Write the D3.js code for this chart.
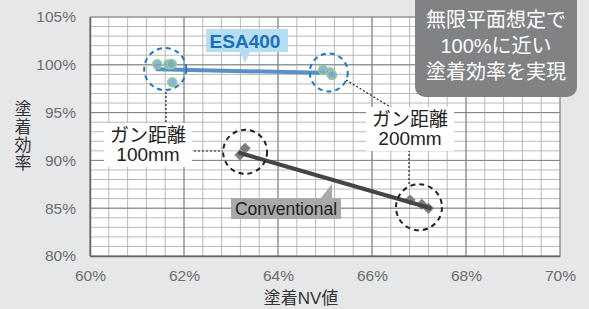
<!DOCTYPE html>
<html>
<head>
<meta charset="utf-8">
<script src="https://cdn.jsdelivr.net/npm/d3@7"></script>
<style>
  html, body { margin: 0; padding: 0; background: #e6e7e8; }
  svg { display: block; font-family: "Liberation Sans", "Noto Sans CJK JP", sans-serif; }
</style>
</head>
<body>
<div id="chart"></div>
<script>
// data
const xTicks = [60, 62, 64, 66, 68, 70];
const yTicks = [80, 85, 90, 95, 100, 105];

const esaX = [61.43, 61.67, 61.74, 61.75, 64.96, 65.11, 65.15];
const esaY = [100.05, 100.05, 100.08, 98.17, 99.46, 99.22, 98.93];
const esaFitX = [61.43, 65.15];
const esaFitY = [99.53, 99.14];

const convX = [63.19, 63.30, 66.81, 67.06, 67.20];
const convY = [90.57, 91.27, 85.86, 85.41, 84.99];
const convFitX = [63.19, 67.23];
const convFitY = [90.77, 85.02];

const width = 589;
const height = 309;
const margin = { top: 17, right: 29, bottom: 53, left: 90 };
const innerWidth = width - margin.left - margin.right;
const innerHeight = height - margin.top - margin.bottom;

const svg = d3.select('#chart')
  .append('svg')
  .attr('width', width)
  .attr('height', height);

svg.append('rect').attr('width', width).attr('height', height).attr('fill', '#e6e7e8');

const g = svg.append('g')
  .attr('transform', `translate(${margin.left}, ${margin.top})`);

const x = d3.scaleLinear().domain([60, 70]).range([0, innerWidth]);
const y = d3.scaleLinear().domain([80, 105]).range([innerHeight, 0]);

// plot background
g.append('rect')
  .attr('width', innerWidth)
  .attr('height', innerHeight)
  .attr('fill', '#fff');

// minor grid
const minorX = d3.range(60, 70.001, 0.4);
const minorY = d3.range(80, 105.001, 1);
g.append('g').selectAll('line')
  .data(minorX)
  .enter().append('line')
  .attr('x1', d => x(d)).attr('x2', d => x(d))
  .attr('y1', 0).attr('y2', innerHeight)
  .attr('stroke', '#b8b8b8').attr('stroke-width', 1);
g.append('g').selectAll('line')
  .data(minorY)
  .enter().append('line')
  .attr('y1', d => y(d)).attr('y2', d => y(d))
  .attr('x1', 0).attr('x2', innerWidth)
  .attr('stroke', '#b8b8b8').attr('stroke-width', 1);

// major grid
g.append('g').selectAll('line')
  .data(xTicks)
  .enter().append('line')
  .attr('x1', d => x(d)).attr('x2', d => x(d))
  .attr('y1', 0).attr('y2', innerHeight)
  .attr('stroke', '#808080').attr('stroke-width', 1);
g.append('g').selectAll('line')
  .data(yTicks)
  .enter().append('line')
  .attr('y1', d => y(d)).attr('y2', d => y(d))
  .attr('x1', 0).attr('x2', innerWidth)
  .attr('stroke', '#808080').attr('stroke-width', 1);

// axes
const xAxis = g.append('g')
  .attr('transform', `translate(0, ${innerHeight})`)
  .call(d3.axisBottom(x).tickValues(xTicks).tickSize(0).tickPadding(14).tickFormat(d => d + '%'));
const yAxis = g.append('g')
  .call(d3.axisLeft(y).tickValues(yTicks).tickSize(0).tickPadding(14).tickFormat(d => d + '%'));
[xAxis, yAxis].forEach(a => {
  a.select('.domain').attr('stroke', '#666').attr('stroke-width', 1.5);
  a.selectAll('text').style('font-size', '15.5px').attr('fill', '#6d6d6d');
});

// axis titles
svg.append('text')
  .attr('x', 301)
  .attr('y', 304)
  .attr('text-anchor', 'middle')
  .style('font-size', '17px')
  .attr('fill', '#333')
  .text('塗着NV値');

const yTitle = svg.append('text')
  .attr('text-anchor', 'middle')
  .style('font-size', '17px')
  .attr('fill', '#333');
'塗着効率'.split('').forEach((c, i) => {
  yTitle.append('tspan').attr('x', 23).attr('y', 115 + i * 18).text(c);
});

// trend lines
const line = d3.line().x(d => x(d[0])).y(d => y(d[1]));
g.append('path')
  .datum(d3.zip(esaFitX, esaFitY))
  .attr('d', line)
  .attr('fill', 'none')
  .attr('stroke', '#5a8fc8')
  .attr('stroke-width', 4)
  .attr('stroke-linecap', 'round');

// ESA400 points
g.selectAll('circle.esa')
  .data(d3.zip(esaX, esaY))
  .enter().append('circle')
  .attr('class', 'esa')
  .attr('cx', d => x(d[0]))
  .attr('cy', d => y(d[1]))
  .attr('r', 4.5)
  .attr('fill', '#7fa6c9')
  .attr('fill-opacity', 0.85)
  .attr('stroke', '#8fd19a')
  .attr('stroke-width', 1.5);

// conventional points
const diamond = d3.symbol().type(d3.symbolDiamond2).size(80);
g.selectAll('path.conv')
  .data(d3.zip(convX, convY))
  .enter().append('path')
  .attr('class', 'conv')
  .attr('d', diamond)
  .attr('transform', d => `translate(${x(d[0])}, ${y(d[1])})`)
  .attr('fill', '#7d7d7d');

g.append('path')
  .datum(d3.zip(convFitX, convFitY))
  .attr('d', line)
  .attr('fill', 'none')
  .attr('stroke', '#454545')
  .attr('stroke-width', 4)
  .attr('stroke-linecap', 'round');

// dashed circles around clusters
const rings = [
  { cx: 61.6, cy: 99.55, r: 21, color: '#1f78c6' },
  { cx: 65.08, cy: 99.2, r: 19, color: '#1f78c6' },
  { cx: 63.3, cy: 90.9, r: 22, color: '#222' },
  { cx: 67.0, cy: 85.1, r: 23, color: '#222' }
];
g.selectAll('circle.ring')
  .data(rings)
  .enter().append('circle')
  .attr('class', 'ring')
  .attr('cx', d => x(d.cx))
  .attr('cy', d => y(d.cy))
  .attr('r', d => d.r)
  .attr('fill', 'none')
  .attr('stroke', d => d.color)
  .attr('stroke-width', 2)
  .attr('stroke-dasharray', '5,4');

// dotted leader lines (pixel coords)
const leaders = [
  [[166, 92], [166, 123]],
  [[190, 151], [223, 151]],
  [[346, 80], [392, 108]],
  [[409, 150], [409, 185]]
];
svg.selectAll('path.leader')
  .data(leaders)
  .enter().append('path')
  .attr('class', 'leader')
  .attr('d', d3.line())
  .attr('stroke', '#222')
  .attr('stroke-width', 1.2)
  .attr('stroke-dasharray', '2,2')
  .attr('fill', 'none');

// callout labels: gun distance
function callout(cx, top, w, lines) {
  svg.append('rect')
    .attr('x', cx - w / 2).attr('y', top)
    .attr('width', w).attr('height', 44)
    .attr('fill', '#fff');
  lines.forEach((t, i) => {
    svg.append('text')
      .attr('x', cx).attr('y', top + 19 + i * 19)
      .attr('text-anchor', 'middle')
      .style('font-size', '19px')
      .attr('fill', '#222')
      .text(t);
  });
}
callout(148, 123, 88, ['ガン距離', '100mm']);
callout(410, 107, 88, ['ガン距離', '200mm']);

// ESA400 tag
svg.append('rect').attr('x', 206).attr('y', 29).attr('width', 82).attr('height', 23).attr('fill', '#b6def2');
svg.append('path').attr('d', 'M240,52 L250,52 L245,63 Z').attr('fill', '#b6def2');
svg.append('text')
  .attr('x', 245).attr('y', 48)
  .attr('text-anchor', 'middle')
  .style('font-size', '19px')
  .style('font-weight', 'bold')
  .attr('fill', '#1a6fb8')
  .text('ESA400');

// Conventional tag
svg.append('path').attr('d', 'M320,199 L332,199 L332,184 Z').attr('fill', '#a9a9a9');
svg.append('rect').attr('x', 231).attr('y', 198).attr('width', 110).attr('height', 21).attr('fill', '#a9a9a9');
svg.append('text')
  .attr('x', 286).attr('y', 215)
  .attr('text-anchor', 'middle')
  .style('font-size', '17.5px')
  .attr('fill', '#1e1e1e')
  .text('Conventional');

// note box
svg.append('rect')
  .attr('x', 415).attr('y', -12)
  .attr('width', 162).attr('height', 109)
  .attr('rx', 10)
  .attr('fill', '#808284');
['無限平面想定で', '100%に近い', '塗着効率を実現'].forEach((t, i) => {
  svg.append('text')
    .attr('x', 496).attr('y', 27 + i * 26)
    .attr('text-anchor', 'middle')
    .style('font-size', '20px')
    .attr('fill', '#fff')
    .text(t);
});
</script>
</body>
</html>
